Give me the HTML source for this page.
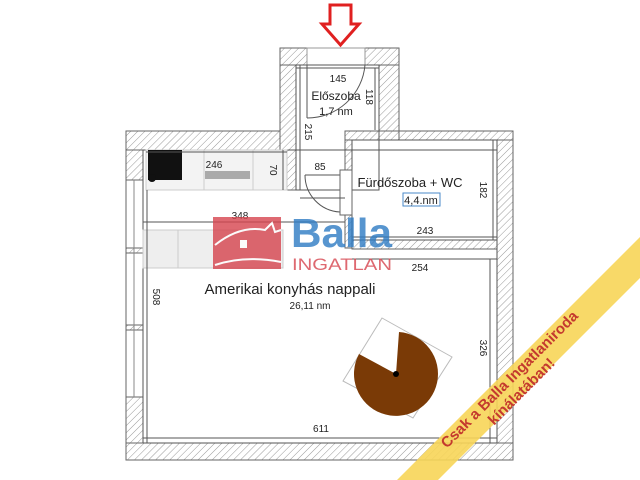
<!DOCTYPE html>
<html><head><meta charset="utf-8"><style>
html,body{margin:0;padding:0;background:#fff;}
svg{display:block;}
text{font-family:"Liberation Sans","DejaVu Sans",sans-serif;}
</style></head><body>
<svg width="640" height="480" viewBox="0 0 640 480" xmlns="http://www.w3.org/2000/svg">
<defs>
<pattern id="h" width="5" height="5" patternUnits="userSpaceOnUse" patternTransform="rotate(45)">
<rect width="5" height="5" fill="#fff"/><line x1="0" y1="0" x2="0" y2="5" stroke="#999" stroke-width="1"/>
</pattern>
</defs>
<rect width="640" height="480" fill="#fff"/>
<g stroke="#666" stroke-width="1" fill="url(#h)">
<rect x="126" y="131" width="161" height="19"/>
<rect x="126" y="150" width="17" height="30"/>
<rect x="126" y="397" width="17" height="63"/>
<rect x="126" y="248" width="17" height="5"/>
<rect x="126" y="325" width="17" height="5"/>
<rect x="126" y="443" width="387" height="17"/>
<rect x="497" y="140" width="16" height="303"/>
<rect x="399" y="131" width="114" height="9"/>
<rect x="280" y="48" width="27" height="17"/>
<rect x="365" y="48" width="34" height="17"/>
<rect x="280" y="65" width="16" height="125"/>
<rect x="379" y="65" width="20" height="75"/>
<rect x="345" y="131" width="54" height="9"/>
<rect x="345" y="140" width="7" height="30"/>
<rect x="345" y="215" width="7" height="33"/>
<rect x="352" y="240" width="145" height="9"/>
</g>
<g fill="#fff" stroke="#666">
<rect x="126" y="180" width="17" height="68"/>
<rect x="126" y="253" width="17" height="72"/>
<rect x="126" y="330" width="17" height="67"/>
</g>
<line x1="134" y1="180" x2="134" y2="397" stroke="#888"/>
<rect x="307" y="48" width="58" height="17" fill="#fff" stroke="#999"/>
<g fill="none" stroke="#555" stroke-width="1">
<rect x="143" y="150" width="354" height="293"/>
<rect x="296" y="65" width="83" height="125"/>
<rect x="352" y="140" width="145" height="100"/>
</g>
<rect x="146" y="150" width="141" height="40" fill="#f3f3f3" stroke="#ccc"/>
<rect x="148" y="150" width="34" height="30" fill="#111"/>
<circle cx="152" cy="178" r="4" fill="#111"/>
<rect x="205" y="171" width="45" height="8" fill="#aaa"/>
<line x1="253" y1="150" x2="253" y2="190" stroke="#ccc"/>
<line x1="204" y1="150" x2="204" y2="190" stroke="#ccc"/>
<rect x="143" y="230" width="140" height="38" fill="#eee" stroke="#ccc"/>
<line x1="178" y1="230" x2="178" y2="268" stroke="#ccc"/>
<path d="M307 65 L307 118 M307 118 A58 58 0 0 0 365 65" fill="none" stroke="#555"/>
<path d="M305 175 L340 175 M305 175 A37 37 0 0 0 340 212" fill="none" stroke="#555"/>
<rect x="340" y="170" width="12" height="45" fill="#fff" stroke="#666"/>
<g stroke="#555" fill="none">
<line x1="296" y1="68" x2="379" y2="68"/>
<line x1="375" y1="68" x2="375" y2="130"/>
<line x1="300" y1="65" x2="300" y2="190"/>
<line x1="300" y1="198" x2="345" y2="198"/>
<line x1="146" y1="152" x2="287" y2="152"/>
<line x1="283" y1="150" x2="283" y2="190"/>
<line x1="143" y1="222" x2="345" y2="222"/>
<line x1="352" y1="237" x2="497" y2="237"/>
<line x1="493" y1="140" x2="493" y2="240"/>
<line x1="352" y1="259" x2="497" y2="259"/>
<line x1="490" y1="259" x2="490" y2="443"/>
<line x1="147" y1="190" x2="147" y2="443"/>
<line x1="143" y1="438" x2="497" y2="438"/>
</g>
<g fill="#222" font-size="10">
<text x="338" y="82" text-anchor="middle">145</text>
<text x="336" y="100" text-anchor="middle" font-size="12">Előszoba</text>
<text x="336" y="115" text-anchor="middle" font-size="11">1,7 nm</text>
<text x="366" y="97" transform="rotate(90 366 97)" text-anchor="middle">118</text>
<text x="305" y="132" transform="rotate(90 305 132)" text-anchor="middle">215</text>
<text x="214" y="168" text-anchor="middle">246</text>
<text x="270" y="170" transform="rotate(90 270 170)" text-anchor="middle">70</text>
<text x="320" y="170" text-anchor="middle">85</text>
<text x="240" y="219" text-anchor="middle">348</text>
<text x="410" y="187" text-anchor="middle" font-size="13">Fürdőszoba + WC</text>
<text x="480" y="190" transform="rotate(90 480 190)" text-anchor="middle">182</text>
<text x="425" y="234" text-anchor="middle">243</text>
<text x="420" y="271" text-anchor="middle">254</text>
<text x="290" y="294" text-anchor="middle" font-size="15">Amerikai konyhás nappali</text>
<text x="310" y="309" text-anchor="middle" font-size="10">26,11 nm</text>
<text x="153" y="297" transform="rotate(90 153 297)" text-anchor="middle">508</text>
<text x="480" y="348" transform="rotate(90 480 348)" text-anchor="middle">326</text>
<text x="321" y="432" text-anchor="middle">611</text>
</g>
<rect x="403" y="193" width="37" height="13" fill="none" stroke="#4a8ac9"/>
<text x="421" y="204" text-anchor="middle" font-size="11" fill="#222">4,4.nm</text>
<polygon points="382,318 452,357 413,418 343,381" fill="none" stroke="#bbb"/>
<path d="M396 374 L399 332 A42 42 0 1 1 359 354 Z" fill="#7a3a06"/>
<circle cx="396" cy="374" r="3" fill="#000"/>
<path d="M330 5 L351 5 L351 24 L359 24 L340.5 45 L322 24 L330 24 Z" fill="#fff" stroke="#e02020" stroke-width="3" stroke-linejoin="miter"/>
<g opacity="0.8">
<rect x="213" y="217" width="68" height="52" fill="#d6444e"/>
<path d="M215 245 Q240 225 265 230 L272 223 L275 232 L281 230 M215 265 Q245 255 281 262" fill="none" stroke="#fff" stroke-width="2"/>
<rect x="240" y="240" width="7" height="8" fill="#fff"/>
<text x="291" y="247" font-size="41" font-weight="bold" fill="#2e7bc4" textLength="101" lengthAdjust="spacingAndGlyphs">Balla</text>
<text x="292" y="270" font-size="17" fill="#d6444e" textLength="100" lengthAdjust="spacingAndGlyphs">INGATLAN</text>
</g>
<polygon points="640,237 640,278 438,480 397,480" fill="#f7d558" opacity="0.9"/>
<g transform="translate(515,385) rotate(-45)" fill="#c43a2e" font-weight="bold" text-anchor="middle">
<text x="0" y="-3" font-size="15">Csak a Balla Ingatlaniroda</text>
<text x="0" y="14" font-size="15">kínálatában!</text>
</g>
</svg>
</body></html>
